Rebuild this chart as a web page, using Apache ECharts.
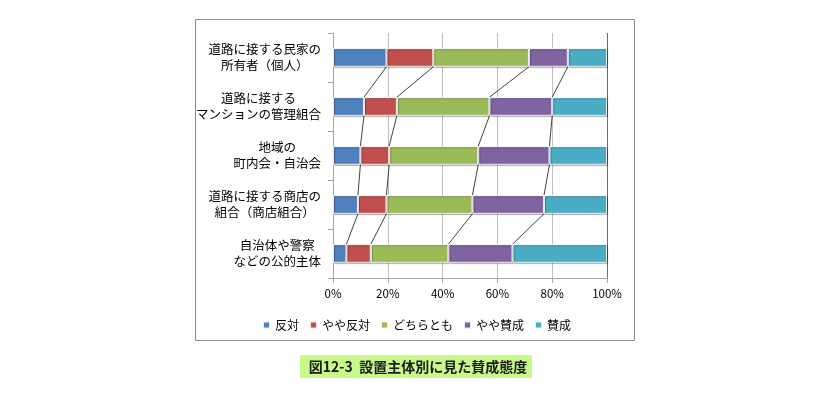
<!DOCTYPE html>
<html>
<head>
<meta charset="utf-8">
<script src="https://cdn.jsdelivr.net/npm/echarts@6/dist/echarts.min.js"></script>
<style>
html,body{margin:0;padding:0;background:#fff;}
#c{width:840px;height:398px;}
</style>
</head>
<body>
<div id="c"></div>
<script>
const categories = [
  '道路に接する民家の\n所有者（個人）',
  '道路に接する\nマンションの管理組合',
  '地域の\n町内会・自治会',
  '道路に接する商店の\n組合（商店組合）',
  '自治体や警察\nなどの公的主体'
];
const seriesNames = ['反対', 'やや反対', 'どちらとも', 'やや賛成', '賛成'];
const hantai      = [19.5, 11.3, 10.0, 9.1, 4.9];
const yayaHantai  = [17.1, 12.0, 10.5, 10.4, 8.9];
const dochiratomo = [34.9, 33.8, 32.5, 31.4, 28.3];
const yayaSansei  = [14.2, 22.9, 26.0, 26.1, 23.4];
const sansei      = [14.3, 20.0, 21.0, 23.0, 34.5];
const xTicks = [0, 20, 40, 60, 80, 100];
const captionText = '図12-3  設置主体別に見た賛成態度';

const values = [hantai, yayaHantai, dochiratomo, yayaSansei, sansei];
const colors = ['#4F81BD', '#C0504D', '#9BBB59', '#8064A2', '#4BACC6'];
const BAR_RATIO = 0.38;

function cum(k, i) {
  let s = 0;
  for (let j = 0; j < k; j++) s += values[j][i];
  return s;
}

const chart = echarts.init(document.getElementById('c'), null, {renderer: 'canvas'});

const barSeries = seriesNames.map((name, k) => ({
  name: name,
  type: 'bar',
  stack: 'total',
  barWidth: (BAR_RATIO * 100) + '%',
  data: values[k],
  itemStyle: {
    color: colors[k],
    borderColor: 'rgba(255,255,255,0.85)',
    borderWidth: 1,
    shadowColor: 'rgba(0,0,0,0.35)',
    shadowOffsetX: 1,
    shadowOffsetY: 1,
    shadowBlur: 1
  },
  emphasis: {disabled: true},
  z: 3
}));

const connector = {
  type: 'custom',
  name: 'series-lines',
  data: categories.slice(0, categories.length - 1).map((c, i) => [0, i]),
  encode: {x: 0, y: 1},
  z: 2,
  silent: true,
  renderItem: function (params, api) {
    const i = params.dataIndex;
    const band = api.size([0, 1])[1];
    const half = band * BAR_RATIO / 2;
    const children = [];
    for (let k = 1; k < values.length; k++) {
      const p1 = api.coord([cum(k, i), i]);
      const p2 = api.coord([cum(k, i + 1), i + 1]);
      children.push({
        type: 'line',
        shape: {x1: p1[0], y1: p1[1] + half, x2: p2[0], y2: p2[1] - half},
        style: {stroke: '#404040', lineWidth: 1}
      });
    }
    return {type: 'group', children: children};
  }
};

const option = {
  animation: false,
  textStyle: {fontFamily: '"Noto Sans CJK JP", sans-serif'},
  grid: {left: 333, right: 233, top: 33, bottom: 120, containLabel: false},
  legend: {
    data: seriesNames,
    left: 257,
    top: 314,
    itemWidth: 7,
    itemHeight: 7,
    itemGap: 10,
    icon: 'rect',
    textStyle: {fontSize: 12, color: '#000', fontFamily: '"Noto Sans CJK JP", sans-serif'}
  },
  xAxis: {
    type: 'value',
    min: 0,
    max: 100,
    interval: 20,
    axisLine: {show: true, lineStyle: {color: '#a6a6a6'}},
    axisTick: {show: true, length: 5, lineStyle: {color: '#a6a6a6'}},
    splitLine: {show: true, lineStyle: {color: ['#bfbfbf', '#bfbfbf', '#bfbfbf', '#bfbfbf', '#bfbfbf', '#6e6e6e'], width: 1}},
    axisLabel: {
      formatter: function (v) { return xTicks.indexOf(v) >= 0 ? v + '%' : ''; },
      color: '#000',
      fontSize: 11.5,
      margin: 10,
      fontFamily: '"Noto Sans CJK JP", sans-serif'
    }
  },
  yAxis: {
    type: 'category',
    data: categories,
    inverse: true,
    axisLine: {show: true, lineStyle: {color: '#a6a6a6'}},
    axisTick: {show: true, length: 5, lineStyle: {color: '#a6a6a6'}},
    axisLabel: {
      margin: 12,
      color: '#000',
      fontSize: 12.5,
      lineHeight: 16,
      formatter: function (v) {
        return v.split('\n').map(s => '{c|' + s + '}').join('\n');
      },
      rich: {
        c: {align: 'center', fontSize: 12.5, lineHeight: 16, color: '#000', fontFamily: '"Noto Sans CJK JP", sans-serif'}
      }
    }
  },
  graphic: [
    {
      type: 'rect',
      shape: {x: 195.5, y: 19.5, width: 439, height: 321},
      style: {fill: 'none', stroke: '#8c8c8c', lineWidth: 1},
      silent: true,
      z: 0
    },
    {
      type: 'rect',
      shape: {x: 300, y: 355, width: 232, height: 23},
      style: {fill: '#c8f98a'},
      silent: true
    },
    {
      type: 'text',
      x: 418,
      y: 366.5,
      style: {
        text: captionText,
        fontSize: 14,
        fontWeight: 'bold',
        fill: '#1a1a1a',
        align: 'center',
        verticalAlign: 'middle',
        fontFamily: '"Noto Sans CJK JP", sans-serif'
      },
      silent: true
    }
  ],
  series: barSeries.concat([connector])
};

chart.setOption(option);
</script>
</body>
</html>
